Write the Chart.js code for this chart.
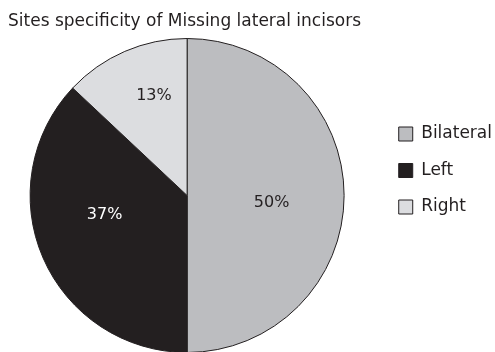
<!DOCTYPE html>
<html>
<head>
<meta charset="utf-8">
<script src="https://cdn.jsdelivr.net/npm/chart.js@4/dist/chart.umd.min.js"></script>
<style>
  html, body { margin: 0; padding: 0; background: #fff; overflow: hidden; }
  #wrap { position: absolute; left: -5px; top: 0; width: 500px; height: 352px; }
</style>
</head>
<body>
<div id="wrap"><canvas id="graficoSitios"></canvas></div>
<script>
// ========== DADOS ==========
const titulo = 'Sites specificity of Missing lateral incisors';
const sitios = ['Bilateral', 'Left', 'Right'];
const percentuais = [50, 37, 13];

// ========== ESTILO ==========
const cores = ['#bcbdc0', '#231f20', '#dcdde0'];
const coresRotulo = ['#231f20', '#ffffff', '#231f20'];
const fonte = '"DejaVu Sans", sans-serif';

// titulo no canto superior esquerdo
const tituloPlugin = {
  id: 'tituloTopo',
  afterDraw(chart) {
    const ctx = chart.ctx;
    ctx.save();
    ctx.font = '17px ' + fonte;
    ctx.fillStyle = '#231f20';
    ctx.textAlign = 'left';
    ctx.textBaseline = 'alphabetic';
    ctx.fillText(titulo, 13, 26);
    ctx.restore();
  }
};

// rotulos de porcentagem dentro de cada fatia
const rotulosPlugin = {
  id: 'rotulosFatias',
  afterDatasetsDraw(chart, args, opts) {
    const meta = chart.getDatasetMeta(0);
    const ctx = chart.ctx;
    ctx.save();
    ctx.font = opts.size + 'px ' + fonte;
    ctx.textAlign = 'center';
    ctx.textBaseline = 'middle';
    meta.data.forEach((arco, i) => {
      const p = arco.getProps(['x', 'y', 'startAngle', 'endAngle', 'outerRadius'], true);
      const ang = (p.startAngle + p.endAngle) / 2 + opts.desvio[i] * Math.PI / 180;
      const r = p.outerRadius * opts.raio[i];
      ctx.fillStyle = coresRotulo[i];
      ctx.fillText(percentuais[i] + '%', p.x + Math.cos(ang) * r, p.y + Math.sin(ang) * r);
    });
    ctx.restore();
  }
};

new Chart(document.getElementById('graficoSitios'), {
  type: 'pie',
  data: {
    labels: sitios,
    datasets: [{
      data: percentuais,
      backgroundColor: cores,
      borderColor: '#231f20',
      borderWidth: 1,
      radius: 157
    }]
  },
  options: {
    responsive: true,
    maintainAspectRatio: false,
    animation: false,
    layout: { padding: { top: 106, bottom: 67, left: 0, right: -7 } },
    plugins: {
      legend: {
        position: 'right',
        align: 'start',
        labels: {
          boxWidth: 14,
          boxHeight: 14,
          padding: 19.5,
          color: '#231f20',
          font: { family: fonte, size: 17 }
        }
      },
      tooltip: { enabled: false },
      rotulosFatias: {
        size: 16,
        raio: [0.54, 0.54, 0.67],
        desvio: [5, 10, 5]
      }
    }
  },
  plugins: [tituloPlugin, rotulosPlugin]
});
</script>
</body>
</html>
